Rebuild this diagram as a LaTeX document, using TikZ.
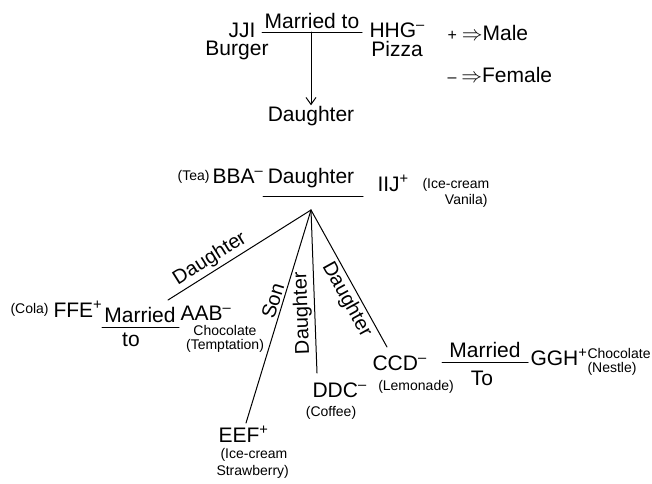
\documentclass[tikz,border=0pt]{standalone}
\usepackage{fontspec}
\setmainfont{Liberation Sans}
\usetikzlibrary{arrows.meta}

\begin{document}
\begin{tikzpicture}[x=1pt, y=-1pt, >={Straight Barb[length=7pt,width=10pt]}, line cap=round, line join=round, line width=1pt,
  maintext/.style={font=\fontsize{21}{25}\selectfont, inner sep=0pt},
  notetext/.style={font=\fontsize{14}{16}\selectfont, inner sep=0pt},
  linelabel/.style={font=\fontsize{20}{24}\selectfont, inner sep=2.5pt, sloped}]

\useasboundingbox (0,0) rectangle (652,483);

% Coppia in alto
\node[maintext, anchor=base] (jji) at (242,37) {JJI};
\node[maintext, anchor=base] (mar1) at (312,28) {Married to};
\node[maintext, anchor=base west] (hhg) at (369,37) {HHG\textsuperscript{–}};
\node[maintext, anchor=base] (burger) at (237,55) {Burger};
\node[maintext, anchor=base] (pizza) at (397,56) {Pizza};
\coordinate (m1l) at (262,32);
\coordinate (m1r) at (362,32);
\coordinate (m1c) at (311,32);
\draw (m1l) -- (m1r);
\node[maintext, anchor=base] (dau1) at (311,121) {Daughter};
\draw[->] (m1c) -- (dau1);

% Legenda
\node[maintext, anchor=base west] (male) at (447,40) {{\fontsize{16}{18}\selectfont+}\hspace{5pt}$\Rightarrow$Male};
\node[maintext, anchor=base west] (female) at (447,82) {{\fontsize{16}{18}\selectfont–}\hspace{5pt}$\Rightarrow$Female};

% Seconda generazione
\node[notetext, anchor=base east] (tea) at (210,180) {(Tea)};
\node[maintext, anchor=base west] (bba) at (212,183) {BBA\textsuperscript{–}};
\node[maintext, anchor=base] (dau2) at (311,183) {Daughter};
\coordinate (d2l) at (263,196);
\coordinate (d2r) at (363,196);
\draw (d2l) -- (d2r);
\node[maintext, anchor=base west] (iij) at (377,191) {IIJ\textsuperscript{+}};
\node[notetext, anchor=base west] (ice1) at (422,188) {(Ice-cream};
\node[notetext, anchor=base east] (van) at (488,204) {Vanila)};

% Figli
\coordinate (fan) at (311,210);
\coordinate (aabtop) at (168,300);
\coordinate (eeftop) at (246,423);
\coordinate (ddctop) at (317,373);
\coordinate (ccdtop) at (387,347);
\draw (fan) -- node[linelabel, pos=.66, above] {Daughter} (aabtop);
\draw (fan) -- node[linelabel, pos=.44, above] {Son} (eeftop);
\draw (ddctop) -- node[linelabel, pos=.37, above, allow upside down] {Daughter} (fan);
\draw (fan) -- node[linelabel, pos=.61, below] {Daughter} (ccdtop);

% Ramo sinistro
\node[notetext, anchor=base west] (cola) at (10,313) {(Cola)};
\node[maintext, anchor=base west] (ffe) at (53,317) {FFE\textsuperscript{+}};
\node[maintext, anchor=base] (mar2) at (140,322) {Married};
\coordinate (m2l) at (102,327);
\coordinate (m2r) at (179,327);
\draw (m2l) -- (m2r);
\node[maintext, anchor=base] (to2) at (131,346) {to};
\node[maintext, anchor=base west] (aab) at (180,320) {AAB\textsuperscript{–}};
\node[notetext, anchor=base] (choc1) at (225,335) {Chocolate};
\node[notetext, anchor=base] (tempt) at (225,349) {(Temptation)};

% Figlio
\node[maintext, anchor=base west] (eef) at (218,442) {EEF\textsuperscript{+}};
\node[notetext, anchor=base west] (ice2) at (220,458) {(Ice-cream};
\node[notetext, anchor=base west] (straw) at (216,475) {Strawberry)};

% Figlie
\node[maintext, anchor=base west] (ddc) at (312,397) {DDC\textsuperscript{–}};
\node[notetext, anchor=base] (coffee) at (331,416) {(Coffee)};
\node[maintext, anchor=base west] (ccd) at (372,370) {CCD\textsuperscript{–}};
\node[notetext, anchor=base] (lemon) at (416,390) {(Lemonade)};

% Ramo destro
\node[maintext, anchor=base] (mar3) at (485,357) {Married};
\coordinate (m3l) at (442,362);
\coordinate (m3r) at (528,362);
\draw (m3l) -- (m3r);
\node[maintext, anchor=base] (to3) at (482,385) {To};
\node[maintext, anchor=base west] (ggh) at (530,365) {GGH\textsuperscript{+}};
\node[notetext, anchor=base west] (choc2) at (587,358) {Chocolate};
\node[notetext, anchor=base west] (nestle) at (587,372) {(Nestle)};

\end{tikzpicture}
\end{document}
